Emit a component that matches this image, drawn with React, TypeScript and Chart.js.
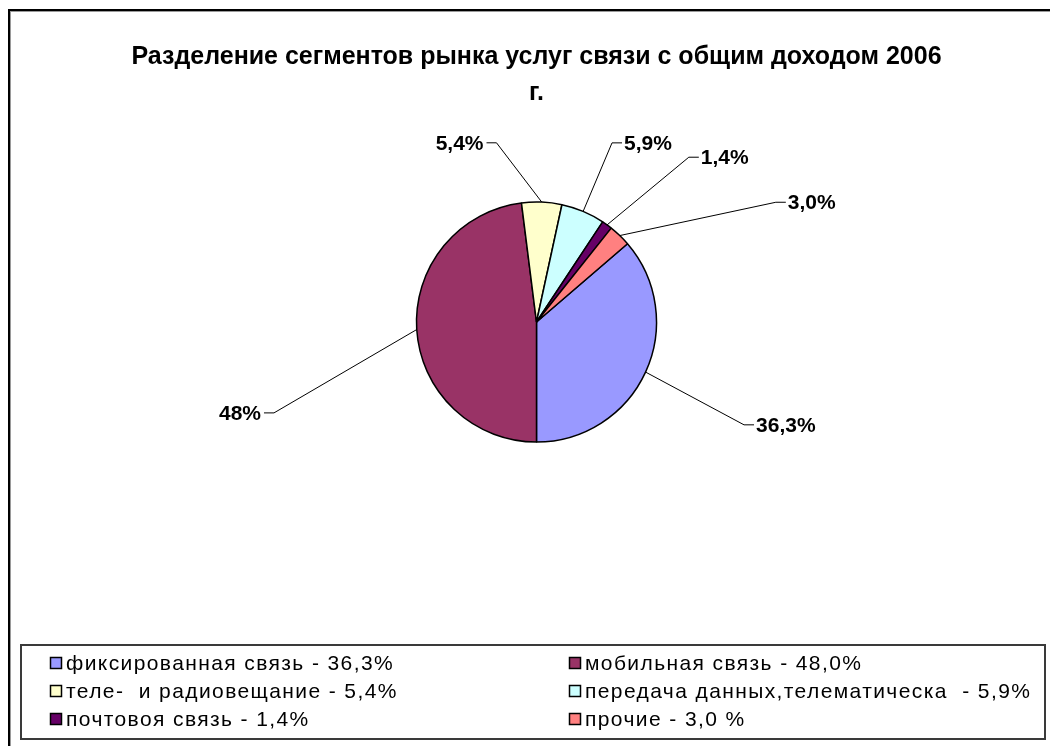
import React, { useEffect, useRef } from 'react';
import { Chart, registerables } from 'chart.js';

Chart.register(...registerables);

const categories = [
  'фиксированная связь',
  'мобильная связь',
  'теле-  и радиовещание',
  'передача данных,телематическа ',
  'почтовоя связь',
  'прочие',
];
const shares = [36.3, 48.0, 5.4, 5.9, 1.4, 3.0];
const sliceLabels = ['36,3%', '48%', '5,4%', '5,9%', '1,4%', '3,0%'];
const legendLabels = [
  'фиксированная связь - 36,3%',
  'мобильная связь - 48,0%',
  'теле-  и радиовещание - 5,4%',
  'передача данных,телематическа  - 5,9%',
  'почтовоя связь - 1,4%',
  'прочие - 3,0 %',
];
const colors = ['#9999FF', '#993366', '#FFFFCC', '#CCFFFF', '#660066', '#FF8080'];
const titleLines = ['Разделение сегментов рынка услуг связи с общим доходом 2006', 'г.'];
// leader-line placement: angle shift (deg) from the slice mid-angle, distance in radii
const labelShift = [1.7, -15.5, -15.1, 0, 6.75, 19.5];
const labelDist = [1.93, 2.315, 1.53, 1.62, 1.87, 2.23];

const FONT = '"Liberation Sans", Arial, sans-serif';

const overlay = {
  id: 'overlay',
  beforeDraw(chart: any) {
    const ctx = chart.ctx;
    ctx.save();
    ctx.fillStyle = '#ffffff';
    ctx.fillRect(0, 0, chart.width, chart.height);
    ctx.fillStyle = '#000000';
    ctx.fillRect(8, 9, 2, chart.height - 9);
    ctx.fillRect(8, 9, chart.width - 8, 2);
    ctx.fillStyle = '#9a9a9a';
    ctx.fillRect(10, 11, 1, chart.height - 11);
    ctx.fillRect(10, 11, chart.width - 10, 1);
    ctx.restore();
  },
  afterDatasetsDraw(chart: any) {
    const ctx = chart.ctx;
    const meta = chart.getDatasetMeta(0);
    ctx.save();
    ctx.font = 'bold 21px ' + FONT;
    ctx.strokeStyle = '#000';
    ctx.fillStyle = '#000';
    ctx.lineWidth = 1;
    ctx.textBaseline = 'middle';
    meta.data.forEach((arc: any, i: number) => {
      const { x, y, startAngle, endAngle, outerRadius } = arc.getProps(
        ['x', 'y', 'startAngle', 'endAngle', 'outerRadius'],
        true
      );
      const mid = (startAngle + endAngle) / 2;
      const ex = x + Math.cos(mid) * outerRadius;
      const ey = y + Math.sin(mid) * outerRadius;
      const a = mid + (labelShift[i] * Math.PI) / 180;
      const d = labelDist[i] * outerRadius;
      const ax = x + Math.cos(a) * d;
      const ay = y + Math.sin(a) * d;
      const right = ax >= x;
      const tx = ax + (right ? 10 : -10);
      ctx.beginPath();
      ctx.moveTo(ex, ey);
      ctx.lineTo(ax, ay);
      ctx.lineTo(tx, ay);
      ctx.stroke();
      ctx.textAlign = right ? 'left' : 'right';
      ctx.fillText(sliceLabels[i], tx + (right ? 2 : -3), ay + 1);
    });
    ctx.restore();
  },
  afterDraw(chart: any) {
    const ctx = chart.ctx;
    ctx.save();
    // legend frame
    ctx.strokeStyle = '#3a3a3a';
    ctx.lineWidth = 2;
    ctx.strokeRect(21, 645, 1024, 94);
    ctx.font = '21px ' + FONT;
    try {
      (ctx as any).letterSpacing = '1.4px';
    } catch (e) {}
    ctx.textBaseline = 'middle';
    ctx.textAlign = 'left';
    const colX = [50, 569];
    const rowY = [663, 691, 719];
    legendLabels.forEach((txt, i) => {
      const cx = colX[i % 2];
      const cy = rowY[Math.floor(i / 2)];
      ctx.fillStyle = colors[i];
      ctx.fillRect(cx, cy - 6, 12, 12);
      ctx.strokeStyle = '#000';
      ctx.lineWidth = 1.5;
      ctx.strokeRect(cx + 0.5, cy - 5.5, 11, 11);
      ctx.fillStyle = '#000';
      ctx.fillText(txt, cx + 16, cy + 1);
    });
    ctx.restore();
  },
};

export default function App() {
  const ref = useRef<HTMLCanvasElement | null>(null);
  useEffect(() => {
    if (!ref.current) return;
    const total = shares.reduce((s, v) => s + v, 0);
    const chart = new Chart(ref.current, {
      type: 'pie',
      data: {
        labels: categories,
        datasets: [
          {
            data: shares,
            backgroundColor: colors,
            borderColor: '#000000',
            borderWidth: 1.5,
            radius: 120,
          } as any,
        ],
      },
      options: {
        responsive: false,
        animation: false,
        devicePixelRatio: 1,
        rotation: 180 - (shares[0] / total) * 360,
        layout: { padding: { left: 23, right: 0, top: 0, bottom: 223 } },
        plugins: {
          legend: { display: false },
          tooltip: { enabled: false },
          title: {
            display: true,
            text: titleLines,
            color: '#000',
            font: { family: FONT, size: 25, weight: 'bold', lineHeight: 1.44 },
            padding: { top: 39, bottom: 10 },
          },
        },
      } as any,
      plugins: [overlay],
    });
    return () => chart.destroy();
  }, []);
  return (
    <div style={{ position: 'absolute', left: 0, top: 0, width: 1050, height: 746, overflow: 'hidden' }}>
      <canvas ref={ref} width={1050} height={746} style={{ display: 'block' }} />
    </div>
  );
}
